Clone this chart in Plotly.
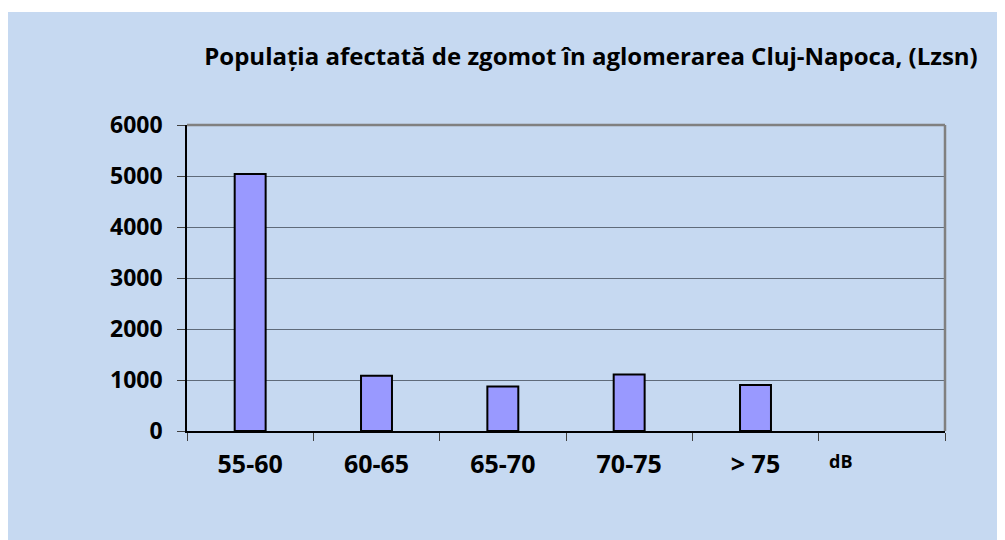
import plotly.graph_objects as go

categories = ["55-60", "60-65", "65-70", "70-75", "> 75", ""]
values = [5040, 1085, 875, 1110, 900, None]
y_ticks = [0, 1000, 2000, 3000, 4000, 5000, 6000]
title_text = "Populația afectată de zgomot în aglomerarea Cluj-Napoca, (Lzsn)"
unit_label = "dB"

FONT = "Open Sans"
# figure is placed at page offset (8, 8)
W, H = 997, 532
L, T = 179, 117
PW, PH = 758, 306
R, B = W - L - PW, H - T - PH

fig = go.Figure()
fig.add_trace(go.Bar(
    x=categories, y=values,
    marker=dict(color="#9999FF", line=dict(color="#000000", width=2)),
    width=0.245,
))

fig.update_layout(
    width=W, height=H,
    paper_bgcolor="#FFFFFF",
    plot_bgcolor="rgba(0,0,0,0)",
    margin=dict(l=L, r=R, t=T, b=B),
    showlegend=False,
    title=dict(text=title_text, x=(591 - 8) / W, xanchor="center", y=1 - (57 - 8) / H, yanchor="middle",
               font=dict(family=FONT, size=24, color="#000000", weight="bold")),
    shapes=[dict(type="rect", xref="paper", yref="paper", layer="below",
                 x0=-L / PW, x1=1 + (R + 20) / PW, y0=-(B + 10) / PH, y1=1 + (T - 4) / PH,
                 fillcolor="#C6D9F1", line=dict(width=0))],
    annotations=[dict(text=unit_label, xref="paper", yref="paper",
                      x=(840 - 187) / PW, y=-(461 - 431) / PH, xanchor="center", yanchor="middle",
                      showarrow=False, font=dict(family=FONT, size=18, color="#000000", weight="bold"))],
)

fig.update_xaxes(
    type="category", tickson="boundaries", ticks="outside", ticklen=8, tickcolor="#404040",
    showline=True, linecolor="#000000", linewidth=1.5, mirror=False,
    showgrid=False, range=[-0.5, 5.5],
    ticklabelstandoff=10,
    tickfont=dict(family=FONT, size=25, color="#000000", weight="bold"),
)
fig.update_yaxes(
    range=[0, 6000], tickvals=y_ticks, ticks="outside", ticklen=8, tickcolor="#404040",
    showline=True, linecolor="#000000", linewidth=1.5,
    showgrid=True, gridcolor="#5F6B7A", gridwidth=1.2,
    ticklabelstandoff=10,
    tickfont=dict(family=FONT, size=23, color="#000000", weight="bold"),
    zeroline=False,
)
# right/top border
fig.add_shape(type="line", xref="paper", yref="paper", x0=1, x1=1, y0=0, y1=1,
              line=dict(color="#808080", width=2.5))
fig.add_shape(type="line", xref="paper", yref="paper", x0=0, x1=1, y0=1, y1=1,
              line=dict(color="#808080", width=2.5))

fig.write_html("out.html")
